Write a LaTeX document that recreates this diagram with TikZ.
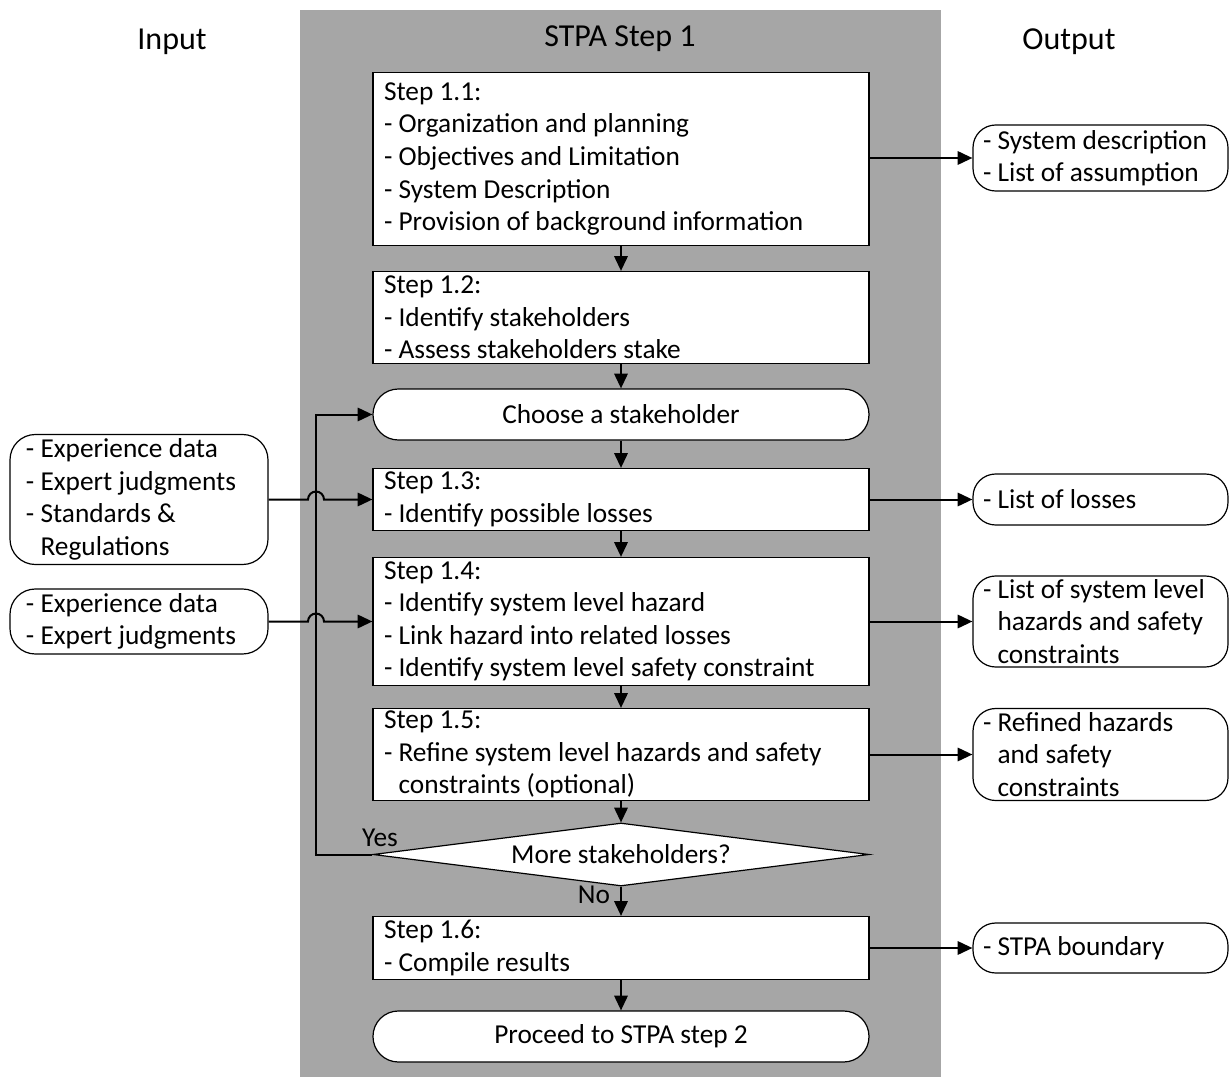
\documentclass[tikz,border=0pt]{standalone}
\usepackage{fontspec}
\setmainfont{Carlito}
\usetikzlibrary{arrows.meta,shapes.geometric,calc}
\definecolor{panel}{RGB}{166,166,166}
\begin{document}
\begin{tikzpicture}[x=0.75pt,y=-0.75pt,
  every node/.style={font=\fontsize{20.5pt}{24.4pt}\selectfont},
  stepbox/.style={draw,line width=0.9pt,fill=white,rectangle,minimum width=372pt,
    text width=355.5pt,inner xsep=8.25pt,inner ysep=0pt,align=flush left},
  termbox/.style={draw,line width=0.9pt,fill=white,rectangle,rounded corners=19pt,
    minimum width=372pt,minimum height=38.25pt,inner sep=0pt,align=center},
  inbox/.style={draw,line width=0.9pt,fill=white,rectangle,rounded corners=19pt,
    minimum width=193.5pt,text width=169.5pt,inner xsep=12pt,inner ysep=0pt,align=flush left},
  outbox/.style={draw,line width=0.9pt,fill=white,rectangle,rounded corners=17pt,
    minimum width=191.25pt,text width=176.25pt,inner xsep=7.5pt,inner ysep=0pt,align=flush left},
  arr/.style={-{Triangle[length=11pt,width=10pt]},line width=1.5pt},
  title/.style={font=\fontsize{24pt}{28pt}\selectfont}]
\useasboundingbox (0,0) rectangle (1229,1077);

% grey panel holding step 1
\fill[panel] (300,10) rectangle (941,1077);

% column headings
\node[title] (hin) at (172,42) {Input};
\node[title] (hstep) at (620,39) {STPA Step 1};
\node[title] (hout) at (1069,42) {Output};

% main flow
\node[stepbox,minimum height=129.75pt] (s11) at (621,159) {Step 1.1:\\- Organization and planning\\- Objectives and Limitation\\- System Description\\- Provision of background information};
\node[stepbox,minimum height=69pt] (s12) at (621,317.5) {Step 1.2:\\- Identify stakeholders\\- Assess stakeholders stake};
\node[termbox] (choose) at (621,414.5) {Choose a stakeholder};
\node[stepbox,minimum height=46.5pt] (s13) at (621,499.5) {Step 1.3:\\- Identify possible losses};
\node[stepbox,minimum height=96pt] (s14) at (621,621.5) {Step 1.4:\\- Identify system level hazard\\- Link hazard into related losses\\- Identify system level safety constraint};
\node[stepbox,minimum height=69pt] (s15) at (621,754.5) {Step 1.5:\\- Refine system level hazards and safety\\\phantom{- }constraints (optional)};
\node[draw,line width=0.9pt,fill=white,diamond,aspect=7.87,inner sep=0pt,
  minimum width=372pt,minimum height=47.25pt] (dia) at (621,854.5) {More stakeholders?};
\node[stepbox,minimum height=47.25pt] (s16) at (621,948) {Step 1.6:\\- Compile results};
\node[termbox] (proceed) at (621,1036.5) {Proceed to STPA step 2};

% inputs
\node[inbox,minimum height=97.5pt] (in1) at (139,499.5) {- Experience data\\- Expert judgments\\- Standards \&\\\phantom{- }Regulations};
\node[inbox,minimum height=48.75pt] (in2) at (139,621.5) {- Experience data\\- Expert judgments};

% outputs
\node[outbox,minimum height=49.5pt] (o1) at (1100.5,158) {- System description\\- List of assumption};
\node[outbox,minimum height=38.25pt] (o2) at (1100.5,499.5) {- List of losses};
\node[outbox,minimum height=68.25pt] (o3) at (1100.5,621.5) {- List of system level\\\phantom{- }hazards and safety\\\phantom{- }constraints};
\node[outbox,minimum height=69pt] (o4) at (1100.5,754.5) {- Refined hazards\\\phantom{- }and safety\\\phantom{- }constraints};
\node[outbox,minimum height=37.5pt] (o5) at (1100.5,948) {- STPA boundary};

% vertical flow arrows
\draw[arr] (s11) -- (s12);
\draw[arr] (s12) -- (choose);
\draw[arr] (choose) -- (s13);
\draw[arr] (s13) -- (s14);
\draw[arr] (s14) -- (s15);
\draw[arr] (s15) -- (dia);
\draw[arr] (dia) -- (s16);
\draw[arr] (s16) -- (proceed);

% loop back for the next stakeholder
\coordinate (loopx) at (316,854.5);
\draw[arr] (dia.west) -- (dia.west -| loopx) |- (choose.west);
\node (yes) at (380,838) {Yes};
\node (no) at (594,895) {No};

% inputs hop over the loop line
\draw[arr] (in1.east) -- ($(in1.east -| loopx)+(-6pt,0)$)
  arc[start angle=180,end angle=0,radius=6pt] -- (s13.west);
\draw[arr] (in2.east |- s14.west) -- ($(s14.west -| loopx)+(-6pt,0)$)
  arc[start angle=180,end angle=0,radius=6pt] -- (s14.west);

% outputs
\draw[arr] (s11.east |- o1.west) -- (o1.west);
\draw[arr] (s13.east |- o2.west) -- (o2.west);
\draw[arr] (s14.east |- o3.west) -- (o3.west);
\draw[arr] (s15.east) -- (o4.west);
\draw[arr] (s16.east |- o5.west) -- (o5.west);
\end{tikzpicture}
\end{document}
